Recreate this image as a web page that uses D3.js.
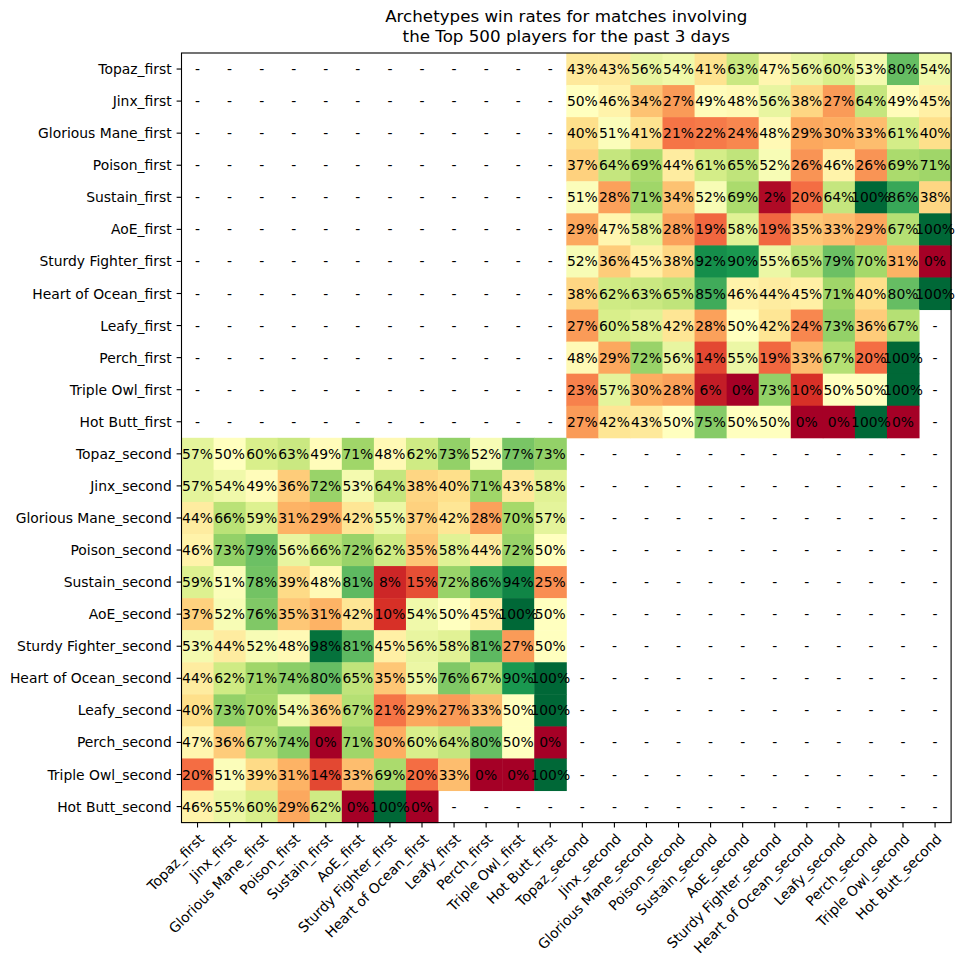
<!DOCTYPE html>
<html lang="en">
	<head>
		<meta charset="utf-8">
		<title>Archetypes win rates heatmap</title>
		<script type="text/javascript" src="https://cdn.jsdelivr.net/npm/d3@7"></script>
		<style type="text/css">
			body {
					margin: 0;
					background: white;
			}
			text {
					font-family: "DejaVu Sans", sans-serif;
					fill: black;
			}
		</style>
	</head>
	<body>
		<script type="text/javascript">
			// archetype names, row/column order is "_first" then "_second"
			var archetypes = ["Topaz", "Jinx", "Glorious Mane", "Poison", "Sustain", "AoE",
					"Sturdy Fighter", "Heart of Ocean", "Leafy", "Perch", "Triple Owl", "Hot Butt"];

			var titleLines = ["Archetypes win rates for matches involving",
					"the Top 500 players for the past 3 days"];

			// win rate (%) of row "_first" archetype vs column "_second" archetype, null = no matches
			var firstVsSecond = [
				[43, 43, 56, 54, 41, 63, 47, 56, 60, 53, 80, 54],
				[50, 46, 34, 27, 49, 48, 56, 38, 27, 64, 49, 45],
				[40, 51, 41, 21, 22, 24, 48, 29, 30, 33, 61, 40],
				[37, 64, 69, 44, 61, 65, 52, 26, 46, 26, 69, 71],
				[51, 28, 71, 34, 52, 69, 2, 20, 64, 100, 86, 38],
				[29, 47, 58, 28, 19, 58, 19, 35, 33, 29, 67, 100],
				[52, 36, 45, 38, 92, 90, 55, 65, 79, 70, 31, 0],
				[38, 62, 63, 65, 85, 46, 44, 45, 71, 40, 80, 100],
				[27, 60, 58, 42, 28, 50, 42, 24, 73, 36, 67, null],
				[48, 29, 72, 56, 14, 55, 19, 33, 67, 20, 100, null],
				[23, 57, 30, 28, 6, 0, 73, 10, 50, 50, 100, null],
				[27, 42, 43, 50, 75, 50, 50, 0, 0, 100, 0, null]
			];

			// win rate (%) of row "_second" archetype vs column "_first" archetype
			var secondVsFirst = [
				[57, 50, 60, 63, 49, 71, 48, 62, 73, 52, 77, 73],
				[57, 54, 49, 36, 72, 53, 64, 38, 40, 71, 43, 58],
				[44, 66, 59, 31, 29, 42, 55, 37, 42, 28, 70, 57],
				[46, 73, 79, 56, 66, 72, 62, 35, 58, 44, 72, 50],
				[59, 51, 78, 39, 48, 81, 8, 15, 72, 86, 94, 25],
				[37, 52, 76, 35, 31, 42, 10, 54, 50, 45, 100, 50],
				[53, 44, 52, 48, 98, 81, 45, 56, 58, 81, 27, 50],
				[44, 62, 71, 74, 80, 65, 35, 55, 76, 67, 90, 100],
				[40, 73, 70, 54, 36, 67, 21, 29, 27, 33, 50, 100],
				[47, 36, 67, 74, 0, 71, 30, 60, 64, 80, 50, 0],
				[20, 51, 39, 31, 14, 33, 69, 20, 33, 0, 0, 100],
				[46, 55, 60, 29, 62, 0, 100, 0, null, null, null, null]
			];

			var labels, n, cells, margin, size, svg, x, y, color, g;

			labels = archetypes.map(function(a) { return a + "_first"; })
					.concat(archetypes.map(function(a) { return a + "_second"; }));
			n = archetypes.length;

			// build the full 24x24 grid, same-half blocks are empty
			cells = [];
			labels.forEach(function(rowName, i) {
				labels.forEach(function(colName, j) {
					var v = null;
					if (i < n && j >= n) v = firstVsSecond[i][j - n];
					if (i >= n && j < n) v = secondVsFirst[i - n][j];
					cells.push({ row: rowName, col: colName, value: v });
				});
			});

			margin = { left: 181.5, top: 53 };
			size = 769.6;

			svg = d3.select("body")
					.append("svg")
					.attr("width", 965)
					.attr("height", 967);

			x = d3.scaleBand().domain(labels).range([0, size]);
			y = d3.scaleBand().domain(labels).range([0, size]);

			// matplotlib RdYlGn: linear ramp through the 11 brewer colours
			color = d3.scaleLinear()
					.domain(d3.range(11).map(function(i) { return i * 10; }))
					.range(d3.schemeRdYlGn[11]);

			g = svg.append("g")
					.attr("transform", "translate(" + margin.left + "," + margin.top + ")");

			g.selectAll("rect.cell")
					.data(cells.filter(function(d) { return d.value !== null; }))
					.enter()
					.append("rect")
					.attr("class", "cell")
					.attr("x", function(d) { return x(d.col); })
					.attr("y", function(d) { return y(d.row); })
					.attr("width", x.bandwidth() + 0.5)
					.attr("height", y.bandwidth() + 0.5)
					.attr("fill", function(d) { return color(d.value); });

			g.selectAll("text.val")
					.data(cells)
					.enter()
					.append("text")
					.attr("class", "val")
					.attr("x", function(d) { return x(d.col) + x.bandwidth() / 2; })
					.attr("y", function(d) { return y(d.row) + y.bandwidth() / 2; })
					.attr("dy", "0.36em")
					.attr("text-anchor", "middle")
					.style("font-size", "13.9px")
					.text(function(d) { return d.value === null ? "-" : d.value + "%"; });

			// axes
			var xAxis = g.append("g")
					.attr("transform", "translate(0," + size + ")")
					.call(d3.axisBottom(x).tickSize(4.9).tickPadding(4.9).tickSizeOuter(0));
			xAxis.selectAll("text")
					.attr("y", 0)
					.attr("dy", "0.76em")
					.attr("transform", "translate(0,9.8) rotate(-45)")
					.style("text-anchor", "end")
					.style("font-size", "13.9px")
					.attr("fill", "black");

			var yAxis = g.append("g")
					.call(d3.axisLeft(y).tickSize(4.9).tickPadding(4.9).tickSizeOuter(0));
			yAxis.selectAll("text")
					.attr("dy", "0.36em")
					.style("font-size", "13.9px")
					.attr("fill", "black");

			g.selectAll(".domain").remove();
			g.selectAll(".tick line").attr("stroke", "black").attr("stroke-width", 1.1);

			// frame
			g.append("rect")
					.attr("width", size)
					.attr("height", size)
					.attr("fill", "none")
					.attr("stroke", "black")
					.attr("stroke-width", 1.1);

			// title
			svg.selectAll("text.title")
					.data(titleLines)
					.enter()
					.append("text")
					.attr("class", "title")
					.attr("x", margin.left + size / 2)
					.attr("y", function(d, i) { return 22 + i * 20; })
					.attr("text-anchor", "middle")
					.style("font-size", "16.7px")
					.text(function(d) { return d; });
		</script>
	</body>
</html>
